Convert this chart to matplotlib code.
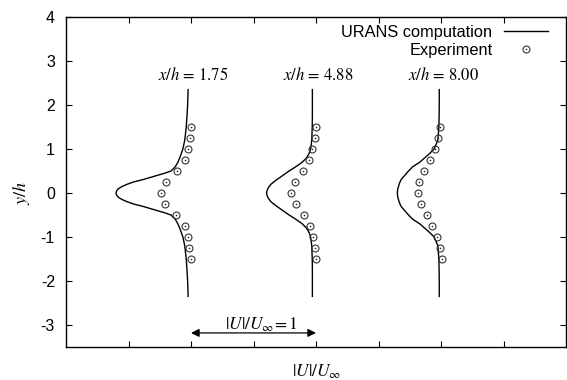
import matplotlib
matplotlib.use("Agg")
import matplotlib.pyplot as plt
from matplotlib.legend_handler import HandlerTuple
from matplotlib.lines import Line2D

plt.rcParams['font.family'] = ['Liberation Sans', 'DejaVu Sans']
plt.rcParams['mathtext.fontset'] = 'stix'

# ---- data ----
stations = ["1.75", "4.88", "8.00"]
offsets = [0.0, 1.0, 2.0]

# URANS computation profiles (y/h, |U|/U_inf)
y_cfd = [-2.35, -2.0, -1.75, -1.5, -1.2, -1.0, -0.9, -0.8, -0.7, -0.6, -0.5, -0.45,
         -0.4, -0.35, -0.3, -0.25, -0.2, -0.15, -0.1, -0.05, 0.0,
         0.05, 0.1, 0.15, 0.2, 0.25, 0.3, 0.35, 0.4, 0.45, 0.5, 0.6, 0.7, 0.8,
         0.9, 1.0, 1.2, 1.5, 1.75, 2.0, 2.35]
u_cfd_1 = [0.977, 0.973, 0.968, 0.962, 0.950, 0.935, 0.923, 0.910, 0.895, 0.875, 0.840, 0.790,
           0.730, 0.670, 0.610, 0.540, 0.490, 0.450, 0.420, 0.405, 0.400,
           0.405, 0.420, 0.450, 0.490, 0.540, 0.610, 0.670, 0.730, 0.790, 0.840, 0.875, 0.895, 0.910,
           0.923, 0.935, 0.950, 0.962, 0.968, 0.973, 0.977]
u_cfd_2 = [0.971, 0.971, 0.971, 0.970, 0.966, 0.957, 0.945, 0.925, 0.890, 0.840, 0.785, 0.760,
           0.735, 0.710, 0.685, 0.662, 0.640, 0.626, 0.615, 0.608, 0.605,
           0.608, 0.615, 0.626, 0.640, 0.662, 0.685, 0.710, 0.735, 0.760, 0.785, 0.840, 0.890, 0.925,
           0.945, 0.957, 0.966, 0.970, 0.971, 0.971, 0.971]
u_cfd_3 = [0.986, 0.986, 0.985, 0.983, 0.975, 0.945, 0.910, 0.870, 0.830, 0.775, 0.740, 0.725,
           0.710, 0.694, 0.680, 0.672, 0.665, 0.660, 0.655, 0.652, 0.651,
           0.652, 0.655, 0.660, 0.665, 0.672, 0.680, 0.694, 0.710, 0.725, 0.740, 0.775, 0.830, 0.870,
           0.910, 0.945, 0.975, 0.983, 0.985, 0.986, 0.986]

# Experiment profiles
y_exp = [1.5, 1.25, 1.0, 0.75, 0.5, 0.25, 0.0, -0.25, -0.5, -0.75, -1.0, -1.25, -1.5]
u_exp_1 = [1.000, 0.995, 0.979, 0.955, 0.888, 0.800, 0.763, 0.795, 0.883, 0.949, 0.973, 0.987, 0.997]
u_exp_2 = [1.000, 0.995, 0.971, 0.944, 0.896, 0.832, 0.800, 0.840, 0.904, 0.950, 0.976, 0.990, 1.000]
u_exp_3 = [0.995, 0.979, 0.950, 0.915, 0.864, 0.824, 0.819, 0.840, 0.885, 0.928, 0.965, 0.989, 1.005]

u_cfd = [u_cfd_1, u_cfd_2, u_cfd_3]
u_exp = [u_exp_1, u_exp_2, u_exp_3]

yticks = [-3, -2, -1, 0, 1, 2, 3, 4]
xticks = [0.5, 1.0, 1.5, 2.0, 2.5, 3.0, 3.5]

fig = plt.figure(figsize=(5.67, 3.80), dpi=100)
ax = fig.add_axes([66/567, 1 - 347/380, 500/567, 330/380])

for off, uc, ue, st in zip(offsets, u_cfd, u_exp, stations):
    ax.plot([off + u for u in uc], y_cfd, color='black', lw=1.0)
    ax.plot([off + u for u in ue], y_exp, linestyle='none', marker='o', ms=5,
            mfc='none', mec='#333333', mew=0.8)
    ax.plot([off + u for u in ue], y_exp, linestyle='none', marker='o', ms=1.2,
            mfc='#333333', mec='none')
    ax.text(off + 1.02, 2.68, r'$x/h$ = ' + st, ha='center', va='center',
            fontsize=12, family='STIXGeneral')

# scale arrow
ax.annotate('', xy=(1.0, -3.18), xytext=(2.0, -3.18),
            arrowprops=dict(arrowstyle='<|-|>', color='black', lw=0.9,
                            mutation_scale=12, shrinkA=0, shrinkB=0))
ax.text(1.56, -3.0, r'$|U|/U_\infty\!= 1$', ha='center', va='center', fontsize=12.5)

ax.set_xlim(0, 4)
ax.set_ylim(-3.5, 4)
ax.set_xticks(xticks)
ax.set_xticklabels([])
ax.set_yticks(yticks)
ax.set_yticklabels([str(t) for t in yticks])
ax.tick_params(direction='in', length=4, width=0.8, top=True, right=True,
               labelsize=11.5, pad=8)
for s in ax.spines.values():
    s.set_linewidth(1.0)

fig.text(22/567, 1 - 193/380, r'$y/h$', rotation=90, ha='center', va='center', fontsize=13)
fig.text(317/567, 1 - 372/380, r'$|U|/U_\infty$', ha='center', va='center', fontsize=12.5)

h_line = Line2D([], [], color='black', lw=1.0)
h_o = Line2D([], [], linestyle='none', marker='o', ms=5, mfc='none', mec='#333333', mew=0.8)
h_d = Line2D([], [], linestyle='none', marker='o', ms=1.2, mfc='#333333', mec='none')
ax.legend([h_line, (h_o, h_d)], ['URANS computation', 'Experiment'],
          handler_map={tuple: HandlerTuple(ndivide=1)},
          loc='upper right', bbox_to_anchor=(0.984, 1.005), frameon=False,
          markerfirst=False, handlelength=2.7, handletextpad=0.7,
          labelspacing=0.15, fontsize=11.8, borderaxespad=0.2)

fig.savefig('out.png', dpi=100)
